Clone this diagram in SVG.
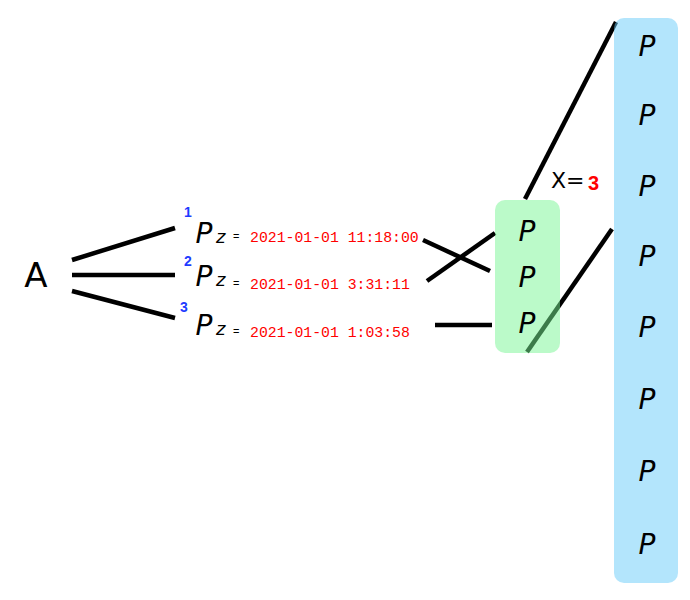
<svg xmlns="http://www.w3.org/2000/svg" width="690" height="600" viewBox="0 0 690 600">
<style>
.ln{stroke:#000;stroke-width:4.5;stroke-linecap:butt;fill:none}
.p{font-family:"DejaVu Sans","Liberation Sans",sans-serif;font-style:italic;font-size:28px;fill:#000;text-anchor:middle}
.sub{font-family:"DejaVu Sans","Liberation Sans",sans-serif;font-style:italic;font-size:18px;fill:#000}
.eq{font-family:"Liberation Sans",sans-serif;font-size:11px;fill:#000}
.num{font-family:"Liberation Sans",sans-serif;font-weight:bold;font-size:14px;fill:#1e3cff}
.dt{font-family:"Liberation Mono",monospace;font-size:14.8px;fill:#f00}
</style>
<rect width="690" height="600" fill="#fff"/>
<g id="connectors">
<line class="ln" x1="72" y1="260" x2="175" y2="228"/>
<line class="ln" x1="72" y1="275" x2="175" y2="275"/>
<line class="ln" x1="72" y1="291" x2="175" y2="318"/>
<line class="ln" x1="423" y1="240" x2="490" y2="271"/>
<line class="ln" x1="427" y1="281" x2="495" y2="233"/>
<line class="ln" x1="435" y1="325" x2="492" y2="325"/>
<line class="ln" x1="525" y1="199" x2="616" y2="22"/>
<line class="ln" x1="612" y1="229" x2="527" y2="352"/>
</g>
<g id="nodeA"><text x="36" y="287" font-family="DejaVu Sans,sans-serif" font-size="34" text-anchor="middle">A</text></g>
<g id="label1">
<text class="num" x="184" y="217">1</text>
<text class="p" x="204" y="243">P</text><text class="sub" x="216" y="243">z</text><text class="eq" x="233" y="240">=</text>
<text class="dt" x="250" y="242">2021-01-01 11:18:00</text>
</g>
<g id="label2">
<text class="num" x="184" y="266">2</text>
<text class="p" x="204" y="286">P</text><text class="sub" x="216" y="286">z</text><text class="eq" x="233" y="287">=</text>
<text class="dt" x="250" y="289">2021-01-01 3:31:11</text>
</g>
<g id="label3">
<text class="num" x="180" y="312">3</text>
<text class="p" x="204" y="335">P</text><text class="sub" x="216" y="335">z</text><text class="eq" x="233" y="335">=</text>
<text class="dt" x="250" y="337">2021-01-01 1:03:58</text>
</g>
<g id="xlabel">
<text x="551" y="188" font-family="DejaVu Sans,sans-serif" font-size="22" fill="#000">X=</text>
<text x="588" y="190" font-family="Liberation Sans,sans-serif" font-weight="bold" font-size="20" fill="#f00">3</text>
</g>
<g id="greenBox">
<rect x="495" y="200" width="65" height="153" rx="10" fill="#77f593" fill-opacity="0.5"/>
<text class="p" x="527" y="241">P</text>
<text class="p" x="527" y="287">P</text>
<text class="p" x="527" y="333">P</text>
</g>
<g id="blueBox">
<rect x="614" y="18" width="64" height="565" rx="10" fill="#67cbf9" fill-opacity="0.5"/>
<text class="p" x="647" y="56">P</text>
<text class="p" x="647" y="125">P</text>
<text class="p" x="647" y="196">P</text>
<text class="p" x="647" y="266">P</text>
<text class="p" x="647" y="337">P</text>
<text class="p" x="647" y="409">P</text>
<text class="p" x="647" y="481">P</text>
<text class="p" x="647" y="554">P</text>
</g>
</svg>
